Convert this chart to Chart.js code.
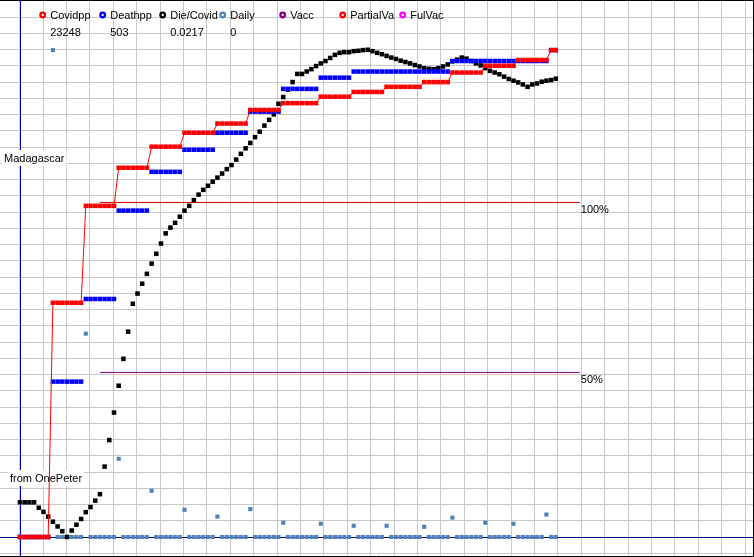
<!DOCTYPE html>
<html><head><meta charset="utf-8">
<script src="https://cdn.jsdelivr.net/npm/chart.js@4"></script>
<style>html,body{margin:0;padding:0;background:#fff}canvas{display:block}</style>
</head><body>
<canvas id="c" width="754" height="557"></canvas>
<script>
// ---- data (one value per day, index 0..114) ----
const covidpp = [
  0,0,0,0,0,0,0,
  68.9,68.9,68.9,68.9,68.9,68.9,68.9,
  97.4,97.4,97.4,97.4,97.4,97.4,97.4,
  108.6,108.6,108.6,108.6,108.6,108.6,108.6,
  114.8,114.8,114.8,114.8,114.8,114.8,114.8,
  118.9,118.9,118.9,118.9,118.9,118.9,118.9,
  121.6,121.6,121.6,121.6,121.6,121.6,121.6,
  125.6,125.6,125.6,125.6,125.6,125.6,125.6,
  127.6,127.6,127.6,127.6,127.6,127.6,127.6,127.6,
  129.5,129.5,129.5,129.5,129.5,129.5,129.5,
  130.9,130.9,130.9,130.9,130.9,130.9,130.9,
  132.4,132.4,132.4,132.4,132.4,132.4,132.4,132.4,
  133.8,133.8,133.8,133.8,133.8,133.8,
  136.6,136.6,136.6,136.6,136.6,136.6,136.6,
  138.6,138.6,138.6,138.6,138.6,138.6,138.6,
  140.3,140.3,140.3,140.3,140.3,140.3,140.3,
  143.2,143.2
];
const deathpp = [
  0,0,0,0,0,0,0,
  45.7,45.7,45.7,45.7,45.7,45.7,45.7,
  70.0,70.0,70.0,70.0,70.0,70.0,70.0,
  96.0,96.0,96.0,96.0,96.0,96.0,96.0,
  107.4,107.4,107.4,107.4,107.4,107.4,107.4,
  113.9,113.9,113.9,113.9,113.9,113.9,113.9,
  118.9,118.9,118.9,118.9,118.9,118.9,118.9,
  125.1,125.1,125.1,125.1,125.1,125.1,125.1,
  131.8,131.8,131.8,131.8,131.8,131.8,131.8,131.8,
  135.1,135.1,135.1,135.1,135.1,135.1,135.1,
  136.9,136.9,136.9,136.9,136.9,136.9,136.9,
  136.9,136.9,136.9,136.9,136.9,136.9,136.9,
  136.9,136.9,136.9,136.9,136.9,136.9,136.9,
  140.0,140.0,140.0,140.0,140.0,140.0,140.0,
  140.0,140.0,140.0,140.0,140.0,140.0,140.0,
  140.0,140.0,140.0,140.0,140.0,140.0,140.0,
  143.2,143.2
];
const dieCovid = [
  10.2,10.2,10.2,10.2,8.6,7.4,6.0,4.5,3.1,1.7,
  0,1.9,3.6,5.3,7.3,8.8,10.7,12.6,20.7,28.5,
  36.6,44.5,52.4,60.4,68.6,71.6,74.5,77.4,80.4,83.3,
  86.3,89.3,91.0,92.4,94.2,96.0,97.4,99.1,100.7,102.1,
  103.3,104.5,105.7,106.9,108.2,109.4,111.0,112.7,114.3,115.9,
  117.6,119.2,121.0,122.7,124.3,127.4,129.4,131.6,133.8,136.2,
  136.2,136.9,137.6,138.5,139.3,140.0,140.9,141.8,142.4,142.6,
  142.6,142.9,143.0,143.2,143.3,142.9,142.4,142.0,141.5,141.0,
  140.6,140.1,139.7,139.3,138.8,138.4,137.9,137.7,137.6,137.9,
  138.4,139.0,139.9,140.4,141.0,140.7,140.0,139.3,138.7,137.9,
  137.1,136.6,136.1,135.4,134.7,134.2,133.7,133.1,132.4,133.1,
  133.4,133.9,134.2,134.4,134.8
];
const daily = [
  0,0,0,0,0,0,0,
  143.2,0,0,0,0,0,0,
  59.8,0,0,0,0,0,0,
  23.0,0,0,0,0,0,0,
  13.6,0,0,0,0,0,0,
  8.0,0,0,0,0,0,0,
  6.0,0,0,0,0,0,0,
  8.2,0,0,0,0,0,0,
  4.2,0,0,0,0,0,0,0,
  3.9,0,0,0,0,0,0,
  3.3,0,0,0,0,0,0,
  3.3,0,0,0,0,0,0,0,
  3.0,0,0,0,0,0,
  5.7,0,0,0,0,0,0,
  4.2,0,0,0,0,0,
  3.9,0,0,0,0,0,0,
  6.6,0,0
];
const refX = [17.0, 119.1];
const ref100 = [98.4, 98.4];
const ref50 = [48.4, 48.4];
const refLabels = ['100%', '50%'];
const legendLabels = ['Covidpp','Deathpp','Die/Covid','Daily','Vacc','PartialVa','FulVac'];
const legendColors = ['#ff0000','#0000ff','#000000','#4f81bd','#800080','#ff0000','#ff00ff'];
const legendValues = ['23248','503','0.0217','0'];
const countryName = 'Madagascar';
const creditText = 'from OnePeter';

// ---- chart ----
const FONT = '11px "Liberation Sans", Arial, sans-serif';
const pts = arr => arr.map((v, i) => ({x: i, y: v}));
const refPts = arr => arr.map((v, i) => ({x: refX[i], y: v}));

function boxLabel(ctx, text, x, base) {
  const w = ctx.measureText(text).width;
  ctx.fillStyle = '#ffffff';
  ctx.fillRect(x - 2, base - 12, w + 4, 16);
  ctx.fillStyle = '#000000';
  ctx.fillText(text, x, base);
}

const deco = {
  id: 'deco',
  beforeDatasetsDraw(chart) {
    const {ctx, chartArea: a, scales: {x, y}} = chart;
    ctx.save();
    ctx.lineWidth = 1;
    ctx.strokeStyle = '#0000b0';
    const ax = Math.floor(x.getPixelForValue(0)) + 0.5;
    ctx.beginPath(); ctx.moveTo(ax, a.top); ctx.lineTo(ax, a.bottom); ctx.stroke();
    ctx.strokeStyle = '#000080';
    const ay = Math.floor(y.getPixelForValue(0)) + 0.5;
    ctx.beginPath(); ctx.moveTo(a.left, ay); ctx.lineTo(a.right, ay); ctx.stroke();
    ctx.font = FONT;
    ctx.textBaseline = 'alphabetic';
    boxLabel(ctx, countryName, 4, 162);
    boxLabel(ctx, creditText, 10, 482);
    ctx.restore();
  },
  afterDatasetsDraw(chart) {
    const {ctx, scales: {x, y}} = chart;
    ctx.save();
    ctx.font = FONT;
    ctx.fillStyle = '#000';
    ctx.textBaseline = 'alphabetic';
    const lx = x.getPixelForValue(refX[1]) + 1;
    ctx.fillText(refLabels[0], lx, y.getPixelForValue(ref100[1]) + 11);
    ctx.fillText(refLabels[1], lx, y.getPixelForValue(ref50[1]) + 11);
    // legend
    legendLabels.forEach((lab, k) => {
      const cx = 42.7 + 60 * k;
      ctx.beginPath();
      ctx.arc(cx, 15, 2.3, 0, Math.PI * 2);
      ctx.fillStyle = '#fff'; ctx.fill();
      ctx.lineWidth = 2.3; ctx.strokeStyle = legendColors[k]; ctx.stroke();
      ctx.fillStyle = '#000';
      ctx.fillText(lab, cx + 7.5, 19);
      if (k < legendValues.length) ctx.fillText(legendValues[k], cx + 7.5, 36);
    });
    // frame
    ctx.strokeStyle = '#000'; ctx.lineWidth = 1;
    ctx.beginPath();
    ctx.moveTo(0, 0.5); ctx.lineTo(753.5, 0.5); ctx.lineTo(753.5, 556.5); ctx.lineTo(0, 556.5);
    ctx.stroke();
    ctx.restore();
  }
};

const sq = r => ({pointStyle: 'rect', pointRadius: r, pointHoverRadius: r, pointBorderWidth: 0});

new Chart(document.getElementById('c'), {
  type: 'scatter',
  data: {
    datasets: [
      Object.assign({label: 'Covidpp', data: pts(covidpp), showLine: true, borderColor: '#ff0000', borderWidth: 1,
        backgroundColor: '#ff0000', pointBackgroundColor: '#ff0000'}, sq(3.2)),
      Object.assign({label: 'Deathpp', data: pts(deathpp), showLine: false,
        backgroundColor: '#0000ff', pointBackgroundColor: '#0000ff'}, sq(3.2)),
      Object.assign({label: 'Die/Covid', data: pts(dieCovid), showLine: false,
        backgroundColor: '#000000', pointBackgroundColor: '#000000'}, sq(3.2)),
      Object.assign({label: 'Daily', data: pts(daily), showLine: false,
        backgroundColor: '#4f81bd', pointBackgroundColor: '#4f81bd'}, sq(2.9)),
      {label: 'ref100', data: refPts(ref100), showLine: true, borderColor: '#cc0000', borderWidth: 1, pointRadius: 0},
      {label: 'ref50', data: refPts(ref50), showLine: true, borderColor: '#800080', borderWidth: 1, pointRadius: 0}
    ]
  },
  options: {
    responsive: false,
    animation: false,
    devicePixelRatio: 1,
    events: [],
    layout: {padding: 0, autoPadding: false},
    plugins: {legend: {display: false}, tooltip: {enabled: false}, title: {display: false}},
    scales: {
      x: {type: 'linear', display: false, min: -20 / 4.7, max: 734 / 4.7},
      y: {type: 'linear', display: false, min: -20 / 3.4, max: 537 / 3.4},
      gx: {type: 'linear', position: 'bottom', min: -19.6 / 23.4, max: 734.4 / 23.4,
        afterBuildTicks: s => { const t = []; for (let k = 0; k <= 31; k++) t.push({value: k}); s.ticks = t; },
        ticks: {display: false}, grid: {color: '#c8c8c8', drawTicks: false, lineWidth: 1}, border: {display: false}},
      gy: {type: 'linear', position: 'left', min: -20 / 16.25, max: 537 / 16.25,
        afterBuildTicks: s => { const t = []; for (let k = -1; k <= 33; k++) t.push({value: k}); s.ticks = t; },
        ticks: {display: false}, grid: {color: '#c8c8c8', drawTicks: false, lineWidth: 1}, border: {display: false}}
    }
  },
  plugins: [deco]
});
</script>
</body></html>
